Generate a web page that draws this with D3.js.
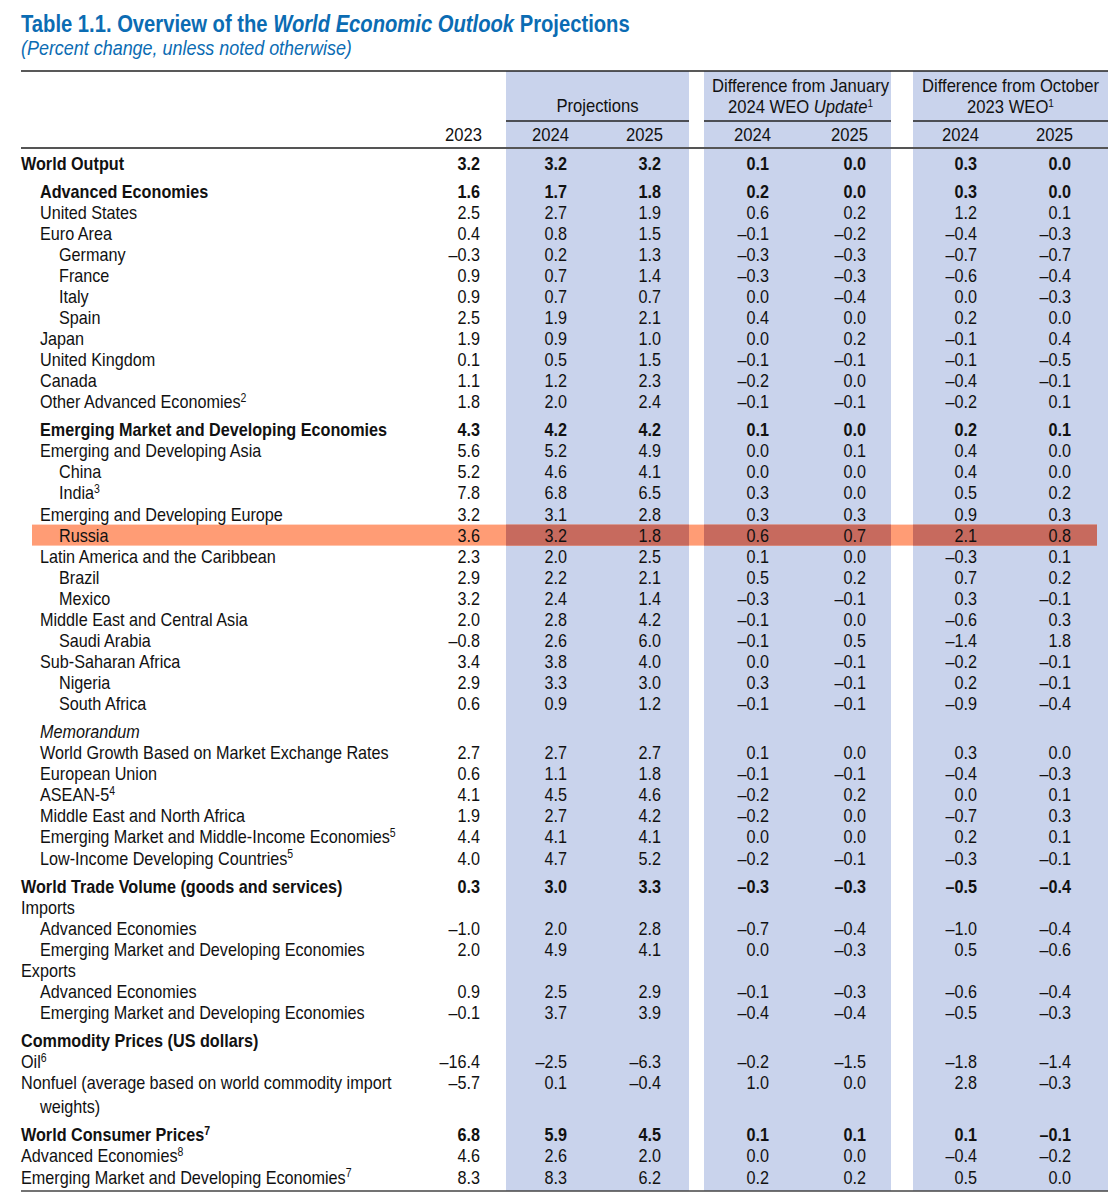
<!DOCTYPE html>
<html>
<head>
<meta charset="utf-8">
<script src="https://cdn.jsdelivr.net/npm/d3@7"></script>
<style>
  html, body { margin: 0; padding: 0; background: #fff; }
  svg text { font-family: "Liberation Sans", Arial, sans-serif; }
</style>
</head>
<body>
<svg id="chart" width="1118" height="1195"></svg>
<script>
// ---------- DATA ----------
const labels = [
  "World Output", "Advanced Economies", "United States", "Euro Area", "Germany", "France", "Italy", "Spain",
  "Japan", "United Kingdom", "Canada", "Other Advanced Economies",
  "Emerging Market and Developing Economies", "Emerging and Developing Asia", "China", "India",
  "Emerging and Developing Europe", "Russia", "Latin America and the Caribbean", "Brazil", "Mexico",
  "Middle East and Central Asia", "Saudi Arabia", "Sub-Saharan Africa", "Nigeria", "South Africa",
  "Memorandum", "World Growth Based on Market Exchange Rates", "European Union", "ASEAN-5",
  "Middle East and North Africa", "Emerging Market and Middle-Income Economies", "Low-Income Developing Countries",
  "World Trade Volume (goods and services)", "Imports", "Advanced Economies", "Emerging Market and Developing Economies",
  "Exports", "Advanced Economies", "Emerging Market and Developing Economies",
  "Commodity Prices (US dollars)", "Oil", "Nonfuel (average based on world commodity import", "weights)",
  "World Consumer Prices", "Advanced Economies", "Emerging Market and Developing Economies"
];
const footnotes = ["", "", "", "", "", "", "", "", "", "", "", "2",
  "", "", "", "3", "", "", "", "", "", "", "", "", "", "",
  "", "", "", "4", "", "5", "5",
  "", "", "", "", "", "", "",
  "", "6", "", "",
  "7", "8", "7"];
const indentLevel = [0, 1, 1, 1, 2, 2, 2, 2, 1, 1, 1, 1,
  1, 1, 2, 2, 1, 2, 1, 2, 2, 1, 2, 1, 2, 2,
  1, 1, 1, 1, 1, 1, 1,
  0, 0, 1, 1, 0, 1, 1,
  0, 0, 0, 1,
  0, 0, 0];
const rowStyle = ["b", "b", "n", "n", "n", "n", "n", "n", "n", "n", "n", "n",
  "b", "n", "n", "n", "n", "n", "n", "n", "n", "n", "n", "n", "n", "n",
  "i", "n", "n", "n", "n", "n", "n",
  "b", "n", "n", "n", "n", "n", "n",
  "b", "n", "n", "n",
  "b", "n", "n"];
// spacing type before each row: s = start, n = normal, g = section gap, w = wrapped line
const spacing = ["s", "g", "n", "n", "n", "n", "n", "n", "n", "n", "n", "n",
  "g", "n", "n", "n", "n", "n", "n", "n", "n", "n", "n", "n", "n", "n",
  "g", "n", "n", "n", "n", "n", "n",
  "g", "n", "n", "n", "n", "n", "n",
  "g", "n", "n", "w",
  "g", "n", "n"];
const highlightRow = "Russia";

const v2023 = [3.2, 1.6, 2.5, 0.4, -0.3, 0.9, 0.9, 2.5, 1.9, 0.1, 1.1, 1.8,
  4.3, 5.6, 5.2, 7.8, 3.2, 3.6, 2.3, 2.9, 3.2, 2.0, -0.8, 3.4, 2.9, 0.6,
  null, 2.7, 0.6, 4.1, 1.9, 4.4, 4.0,
  0.3, null, -1.0, 2.0, null, 0.9, -0.1,
  null, -16.4, -5.7, null,
  6.8, 4.6, 8.3];
const proj2024 = [3.2, 1.7, 2.7, 0.8, 0.2, 0.7, 0.7, 1.9, 0.9, 0.5, 1.2, 2.0,
  4.2, 5.2, 4.6, 6.8, 3.1, 3.2, 2.0, 2.2, 2.4, 2.8, 2.6, 3.8, 3.3, 0.9,
  null, 2.7, 1.1, 4.5, 2.7, 4.1, 4.7,
  3.0, null, 2.0, 4.9, null, 2.5, 3.7,
  null, -2.5, 0.1, null,
  5.9, 2.6, 8.3];
const proj2025 = [3.2, 1.8, 1.9, 1.5, 1.3, 1.4, 0.7, 2.1, 1.0, 1.5, 2.3, 2.4,
  4.2, 4.9, 4.1, 6.5, 2.8, 1.8, 2.5, 2.1, 1.4, 4.2, 6.0, 4.0, 3.0, 1.2,
  null, 2.7, 1.8, 4.6, 4.2, 4.1, 5.2,
  3.3, null, 2.8, 4.1, null, 2.9, 3.9,
  null, -6.3, -0.4, null,
  4.5, 2.0, 6.2];
const janDiff2024 = [0.1, 0.2, 0.6, -0.1, -0.3, -0.3, 0.0, 0.4, 0.0, -0.1, -0.2, -0.1,
  0.1, 0.0, 0.0, 0.3, 0.3, 0.6, 0.1, 0.5, -0.3, -0.1, -0.1, 0.0, 0.3, -0.1,
  null, 0.1, -0.1, -0.2, -0.2, 0.0, -0.2,
  -0.3, null, -0.7, 0.0, null, -0.1, -0.4,
  null, -0.2, 1.0, null,
  0.1, 0.0, 0.2];
const janDiff2025 = [0.0, 0.0, 0.2, -0.2, -0.3, -0.3, -0.4, 0.0, 0.2, -0.1, 0.0, -0.1,
  0.0, 0.1, 0.0, 0.0, 0.3, 0.7, 0.0, 0.2, -0.1, 0.0, 0.5, -0.1, -0.1, -0.1,
  null, 0.0, -0.1, 0.2, 0.0, 0.0, -0.1,
  -0.3, null, -0.4, -0.3, null, -0.3, -0.4,
  null, -1.5, 0.0, null,
  0.1, 0.0, 0.2];
const octDiff2024 = [0.3, 0.3, 1.2, -0.4, -0.7, -0.6, 0.0, 0.2, -0.1, -0.1, -0.4, -0.2,
  0.2, 0.4, 0.4, 0.5, 0.9, 2.1, -0.3, 0.7, 0.3, -0.6, -1.4, -0.2, 0.2, -0.9,
  null, 0.3, -0.4, 0.0, -0.7, 0.2, -0.3,
  -0.5, null, -1.0, 0.5, null, -0.6, -0.5,
  null, -1.8, 2.8, null,
  0.1, -0.4, 0.5];
const octDiff2025 = [0.0, 0.0, 0.1, -0.3, -0.7, -0.4, -0.3, 0.0, 0.4, -0.5, -0.1, 0.1,
  0.1, 0.0, 0.0, 0.2, 0.3, 0.8, 0.1, 0.2, -0.1, 0.3, 1.8, -0.1, -0.1, -0.4,
  null, 0.0, -0.3, 0.1, 0.3, 0.1, -0.1,
  -0.4, null, -0.4, -0.6, null, -0.4, -0.3,
  null, -1.4, -0.3, null,
  -0.1, -0.2, 0.0];

const columnKeys = ["c2023", "p2024", "p2025", "j2024", "j2025", "o2024", "o2025"];
const columnYears = ["2023", "2024", "2025", "2024", "2025", "2024", "2025"];
const groupKeys = ["proj", "jan", "oct"];
const seriesValues = [v2023, proj2024, proj2025, janDiff2024, janDiff2025, octDiff2024, octDiff2025];

// ---------- LAYOUT ----------
const svg = d3.select("#chart");
const blue = "#0b6cb3";
const bandFill = "#c9d3ec";
const textColor = "#111";
const FS = 18.5;
const SX = 0.875; // horizontal condensing to mimic a condensed typeface

const left = 21, right = 1108;

const place = (sel, xf, yf) => sel.attr("transform", (d, i) =>
  `translate(${typeof xf === "function" ? xf(d, i) : xf},${typeof yf === "function" ? yf(d, i) : yf}) scale(${SX},1)`);

// row vertical positions via a linear scale over cumulative units
const unitOf = { s: 0, n: 1, g: 4 / 3, w: 8 / 7 };
const cumUnits = [];
spacing.reduce((acc, s, i) => { const v = acc + unitOf[s]; cumUnits[i] = v; return v; }, 0);
const y = d3.scaleLinear().domain([0, cumUnits[cumUnits.length - 1]]).range([163, 1177]);
const rowY = i => y(cumUnits[i]);

const groupX = d3.scaleOrdinal().domain(groupKeys).range([[506, 689], [704, 891], [913, 1108]]);
const colRight = d3.scaleOrdinal().domain(columnKeys).range([480, 567, 661, 769, 866, 977, 1071]);
const indentX = d3.scaleOrdinal().domain([0, 1, 2]).range([21, 40, 59]);

const fmt = v => v.toFixed(1).replace("-", "\u2013");

// ---------- TITLE ----------
const title = svg.append("text").attr("fill", blue).attr("font-size", 23.1).attr("font-weight", "bold");
place(title, 21, 32);
title.append("tspan").text("Table 1.1. Overview of the ");
title.append("tspan").attr("font-style", "italic").text("World Economic Outlook");
title.append("tspan").text(" Projections");
const sub = svg.append("text").attr("fill", blue).attr("font-size", 20.5).attr("font-style", "italic")
  .text("(Percent change, unless noted otherwise)");
place(sub, 21, 55);

// ---------- BANDS ----------
const tableTop = 71, tableBottom = 1191;
svg.append("g").selectAll("rect").data(groupKeys).join("rect")
  .attr("x", d => groupX(d)[0]).attr("y", tableTop)
  .attr("width", d => groupX(d)[1] - groupX(d)[0]).attr("height", tableBottom - tableTop)
  .attr("fill", bandFill);

// highlight row
const hiIdx = labels.indexOf(highlightRow);
const hy = rowY(hiIdx);
svg.append("rect").attr("x", 32).attr("y", hy - 10.5).attr("width", 1097 - 32).attr("height", 21)
  .attr("fill", "#ff9c75");
svg.append("g").selectAll("rect").data(groupKeys).join("rect")
  .attr("x", d => groupX(d)[0]).attr("y", hy - 10.5)
  .attr("width", d => Math.min(groupX(d)[1], 1097) - groupX(d)[0]).attr("height", 21)
  .attr("fill", "#c76a5e");

// ---------- RULES ----------
svg.append("line").attr("x1", left).attr("x2", right).attr("y1", tableTop).attr("y2", tableTop)
  .attr("stroke", "#222").attr("stroke-width", 1.5);
svg.append("g").selectAll("line").data(groupKeys).join("line")
  .attr("x1", d => groupX(d)[0]).attr("x2", d => groupX(d)[1])
  .attr("y1", 121).attr("y2", 121).attr("stroke", "#222").attr("stroke-width", 1.5);
svg.append("line").attr("x1", left).attr("x2", right).attr("y1", 148).attr("y2", 148)
  .attr("stroke", "#555").attr("stroke-width", 2.2);
svg.append("line").attr("x1", left).attr("x2", right).attr("y1", tableBottom).attr("y2", tableBottom)
  .attr("stroke", "#444").attr("stroke-width", 1.5);

// ---------- HEADERS ----------
const HFS = 19;
const hdr = svg.append("g").attr("font-size", HFS).attr("fill", textColor).attr("text-anchor", "middle");
const gc = k => (groupX(k)[0] + groupX(k)[1]) / 2;
place(hdr.append("text").text("Projections"), gc("proj"), 112);
place(hdr.append("text").text("Difference from January"), gc("jan") + 3, 92);
const jt = hdr.append("text");
place(jt, gc("jan") + 3, 113);
jt.append("tspan").text("2024 WEO ");
jt.append("tspan").attr("font-style", "italic").text("Update");
jt.append("tspan").attr("font-size", 11.5).attr("dy", -6).text("1");
place(hdr.append("text").text("Difference from October"), gc("oct"), 92);
const ot = hdr.append("text");
place(ot, gc("oct"), 113);
ot.append("tspan").text("2023 WEO");
ot.append("tspan").attr("font-size", 11.5).attr("dy", -6).text("1");

place(svg.append("g").attr("font-size", HFS).attr("fill", textColor).attr("text-anchor", "end")
  .selectAll("text").data(columnKeys).join("text")
  .text((d, i) => columnYears[i]), d => colRight(d) + 2, 141);

// ---------- ROW LABELS ----------
const rows = labels.map((label, i) => ({
  label, i, fn: footnotes[i], indent: indentLevel[i], style: rowStyle[i]
}));
const lab = svg.append("g").attr("font-size", FS).attr("fill", textColor)
  .selectAll("text").data(rows).join("text")
  .attr("font-weight", d => d.style === "b" ? "bold" : null)
  .attr("font-style", d => d.style === "i" ? "italic" : null);
place(lab, d => indentX(d.indent), d => rowY(d.i) + 6.5);
lab.append("tspan").text(d => d.label);
lab.filter(d => d.fn).append("tspan").attr("font-size", 12).attr("font-weight", d => d.style === "b" ? "bold" : null)
  .attr("dy", -6.5).text(d => d.fn);

// ---------- VALUES ----------
const cells = [];
rows.forEach(r => columnKeys.forEach((k, c) => {
  const v = seriesValues[c][r.i];
  if (v !== null) cells.push({ k, v, i: r.i, bold: r.style === "b" });
}));
place(svg.append("g").attr("font-size", FS).attr("fill", textColor).attr("text-anchor", "end")
  .selectAll("text").data(cells).join("text")
  .attr("font-weight", d => d.bold ? "bold" : null)
  .text(d => fmt(d.v)), d => colRight(d.k), d => rowY(d.i) + 6.5);
</script>
</body>
</html>
